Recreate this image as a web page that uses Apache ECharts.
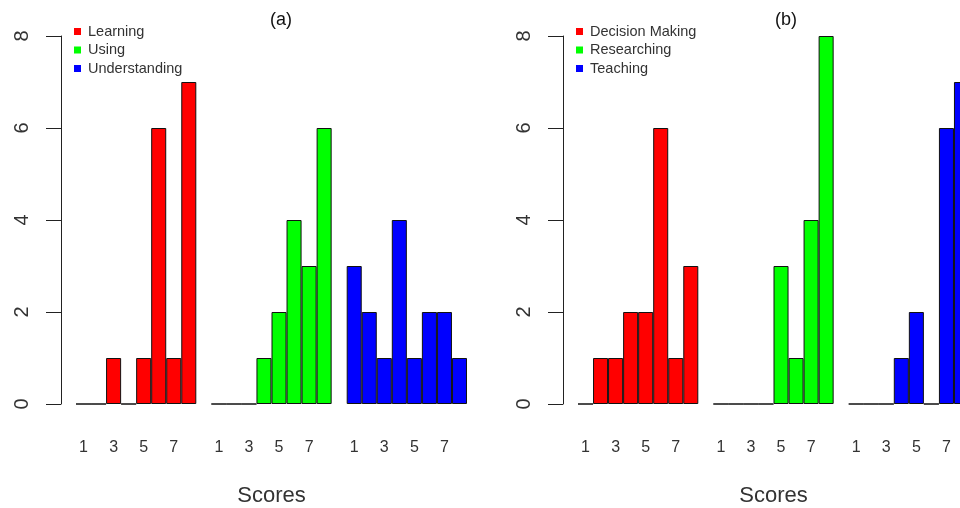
<!DOCTYPE html>
<html>
<head>
<meta charset="utf-8">
<script src="https://cdn.jsdelivr.net/npm/echarts@6/dist/echarts.min.js"></script>
<style>
  html, body { margin: 0; padding: 0; background: #fff; }
  #chart { width: 960px; height: 508px; }
</style>
</head>
<body>
<div id="chart"></div>
<script>
// Score frequencies (scores 1..8) for each domain
const scores = ['1', '2', '3', '4', '5', '6', '7', '8'];

// Panel (a)
const learning      = [0, 0, 1, 0, 1, 6, 1, 7];
const using         = [0, 0, 0, 1, 2, 4, 3, 6];
const understanding = [3, 2, 1, 4, 1, 2, 2, 1];

// Panel (b)
const decisionMaking = [0, 1, 1, 2, 2, 6, 1, 3];
const researching    = [0, 0, 0, 0, 3, 1, 4, 8];
const teaching       = [0, 0, 0, 1, 2, 0, 6, 7];

const yTicks = [0, 2, 4, 6, 8];
const panelTitles = ['(a)', '(b)'];
const namesA = ['Learning', 'Using', 'Understanding'];
const namesB = ['Decision Making', 'Researching', 'Teaching'];
const colors = ['#ff0000', '#00ff00', '#0000ff'];

// Three groups of eight score bins, separated by one empty slot
const GROUP = scores.length;
const SLOT = GROUP + 1;
const categories = [];
for (let g = 0; g < 3; g++) {
  scores.forEach(s => categories.push(g + ':' + s));
  if (g < 2) categories.push(g + ':gap');
}

function placeGroup(values, g) {
  const out = categories.map(() => '-');
  values.forEach((v, i) => { out[g * SLOT + i] = v; });
  return out;
}

const textColor = '#333';
const font = 'Liberation Sans, Arial, sans-serif';

function panel(idx, left) {
  return {
    grid: { left: left, top: 36, width: 391, height: 368, containLabel: false, outerBoundsMode: 'none' },
    xAxis: {
      type: 'category',
      gridIndex: idx,
      data: categories,
      boundaryGap: true,
      axisLine: { show: false },
      axisTick: { show: false },
      axisLabel: {
        interval: 0,
        margin: 36,
        fontSize: 16,
        fontFamily: font,
        color: textColor,
        formatter: function (v) {
          const s = v.split(':')[1];
          return (s !== 'gap' && Number(s) % 2 === 1) ? s : '';
        }
      },
      name: 'Scores',
      nameLocation: 'middle',
      nameGap: 81,
      nameTextStyle: { fontSize: 22, fontFamily: font, color: textColor }
    },
    yAxis: {
      type: 'value',
      gridIndex: idx,
      min: yTicks[0],
      max: yTicks[yTicks.length - 1],
      interval: 2,
      offset: 15,
      axisLine: { show: true, lineStyle: { color: '#222', width: 1 } },
      axisTick: { show: true, length: 15, lineStyle: { color: '#222', width: 1 } },
      splitLine: { show: false },
      axisLabel: {
        rotate: 90,
        margin: 29,
        fontSize: 20,
        fontFamily: font,
        color: textColor
      }
    }
  };
}

const pA = panel(0, 76);
const pB = panel(1, 578);

function barSeries(name, values, g, axisIdx) {
  return {
    name: name,
    type: 'bar',
    xAxisIndex: axisIdx,
    yAxisIndex: axisIdx,
    data: placeGroup(values, g),
    barGap: '-100%',
    barCategoryGap: '0%',
    itemStyle: { color: colors[g], borderColor: '#111', borderWidth: 1 },
    emphasis: { disabled: true },
    animation: false
  };
}

function legendFor(names, left) {
  return {
    orient: 'vertical',
    left: left,
    top: 19,
    itemWidth: 7,
    itemHeight: 7,
    itemGap: 3.5,
    icon: 'rect',
    textStyle: { fontSize: 14.5, fontFamily: font, color: textColor, padding: [0, 0, 0, 2] },
    data: names.map((n, i) => ({ name: n, itemStyle: { color: colors[i], borderWidth: 0 } }))
  };
}

function titleText(text, x) {
  return {
    type: 'text',
    x: x,
    y: 20,
    style: {
      text: text,
      fontSize: 18,
      fontFamily: font,
      fill: '#111',
      align: 'center',
      verticalAlign: 'middle'
    }
  };
}

const option = {
  backgroundColor: '#fff',
  animation: false,
  graphic: [titleText(panelTitles[0], 281), titleText(panelTitles[1], 786)],
  legend: [legendFor(namesA, 69), legendFor(namesB, 571)],
  grid: [pA.grid, pB.grid],
  xAxis: [pA.xAxis, pB.xAxis],
  yAxis: [pA.yAxis, pB.yAxis],
  series: [
    barSeries(namesA[0], learning, 0, 0),
    barSeries(namesA[1], using, 1, 0),
    barSeries(namesA[2], understanding, 2, 0),
    barSeries(namesB[0], decisionMaking, 0, 1),
    barSeries(namesB[1], researching, 1, 1),
    barSeries(namesB[2], teaching, 2, 1)
  ]
};

const chart = echarts.init(document.getElementById('chart'), null, { renderer: 'canvas' });
chart.setOption(option);
</script>
</body>
</html>
